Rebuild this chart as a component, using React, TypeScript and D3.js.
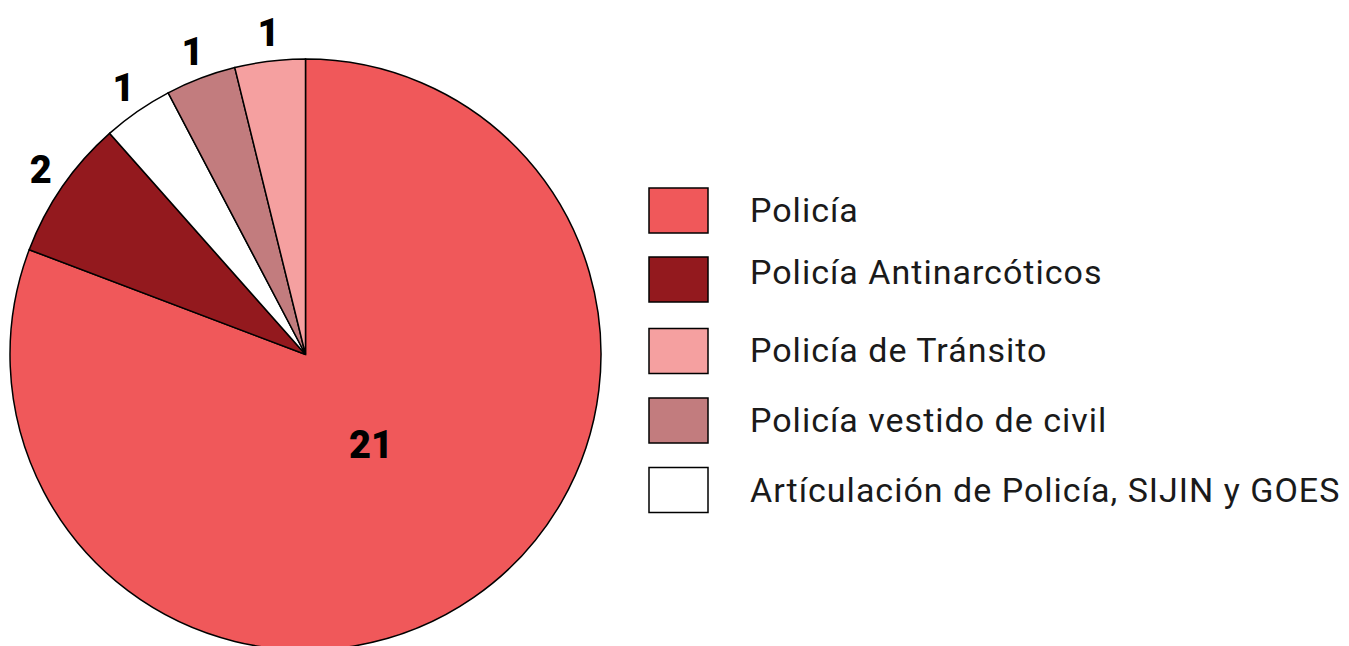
import React from "react";
import * as d3 from "d3";

const categories = [
  "Policía",
  "Policía Antinarcóticos",
  "Artículación de Policía, SIJIN y GOES",
  "Policía vestido de civil",
  "Policía de Tránsito",
];
const values = [21, 2, 1, 1, 1];
const colors = ["#F0585A", "#93191E", "#FFFFFF", "#C27C7E", "#F5A0A0"];
const legendOrder = [
  "Policía",
  "Policía Antinarcóticos",
  "Policía de Tránsito",
  "Policía vestido de civil",
  "Artículación de Policía, SIJIN y GOES",
];

export default function App() {
  const W = 1349, H = 646;
  const cx = 305.5, cy = 354.5, R = 295.5;
  const data = categories.map((c, i) => ({ c, v: values[i], col: colors[i] }));
  const pie = d3.pie<any>().value((d) => d.v).sort(null);
  const arcs = pie(data);
  const arc = d3.arc<any>().innerRadius(0).outerRadius(R);
  const outLabel = d3.arc<any>().innerRadius(324).outerRadius(324);
  const inLabel = d3.arc<any>().innerRadius(110).outerRadius(110);
  const colorOf = d3.scaleOrdinal<string, string>().domain(categories).range(colors);
  const boxY = [210.5, 279.5, 351, 420.5, 490];
  const textY = [210, 272, 350, 420, 490];
  return (
    <svg width={W} height={H} style={{ position: "absolute", left: 0, top: 0 }}>
      <rect width={W} height={H} fill="#fff" />
      <g transform={`translate(${cx},${cy})`}>
        {arcs.map((a, i) => (
          <path key={i} d={arc(a) as string} fill={a.data.col} stroke="#000" strokeWidth={1.5} />
        ))}
        {arcs.map((a, i) => {
          const [x, y] = (i === 0 ? inLabel : outLabel).centroid(a);
          return (
            <text key={"l" + i} x={x + (i === 0 ? 3 : 2)} y={y} textAnchor="middle" dominantBaseline="central"
              fontFamily="Roboto" fontWeight={900} fontSize={38} fill="#000">
              {a.data.v}
            </text>
          );
        })}
      </g>
      {legendOrder.map((c, i) => (
        <g key={c}>
          <rect x={649} y={boxY[i] - 22.5} width={59} height={45} fill={colorOf(c)} stroke="#000" strokeWidth={1.5} />
          <text x={750} y={textY[i]} dominantBaseline="central" fontFamily="Roboto" fontSize={34}
            letterSpacing={1} fill="#1a1a1a">
            {c}
          </text>
        </g>
      ))}
    </svg>
  );
}
